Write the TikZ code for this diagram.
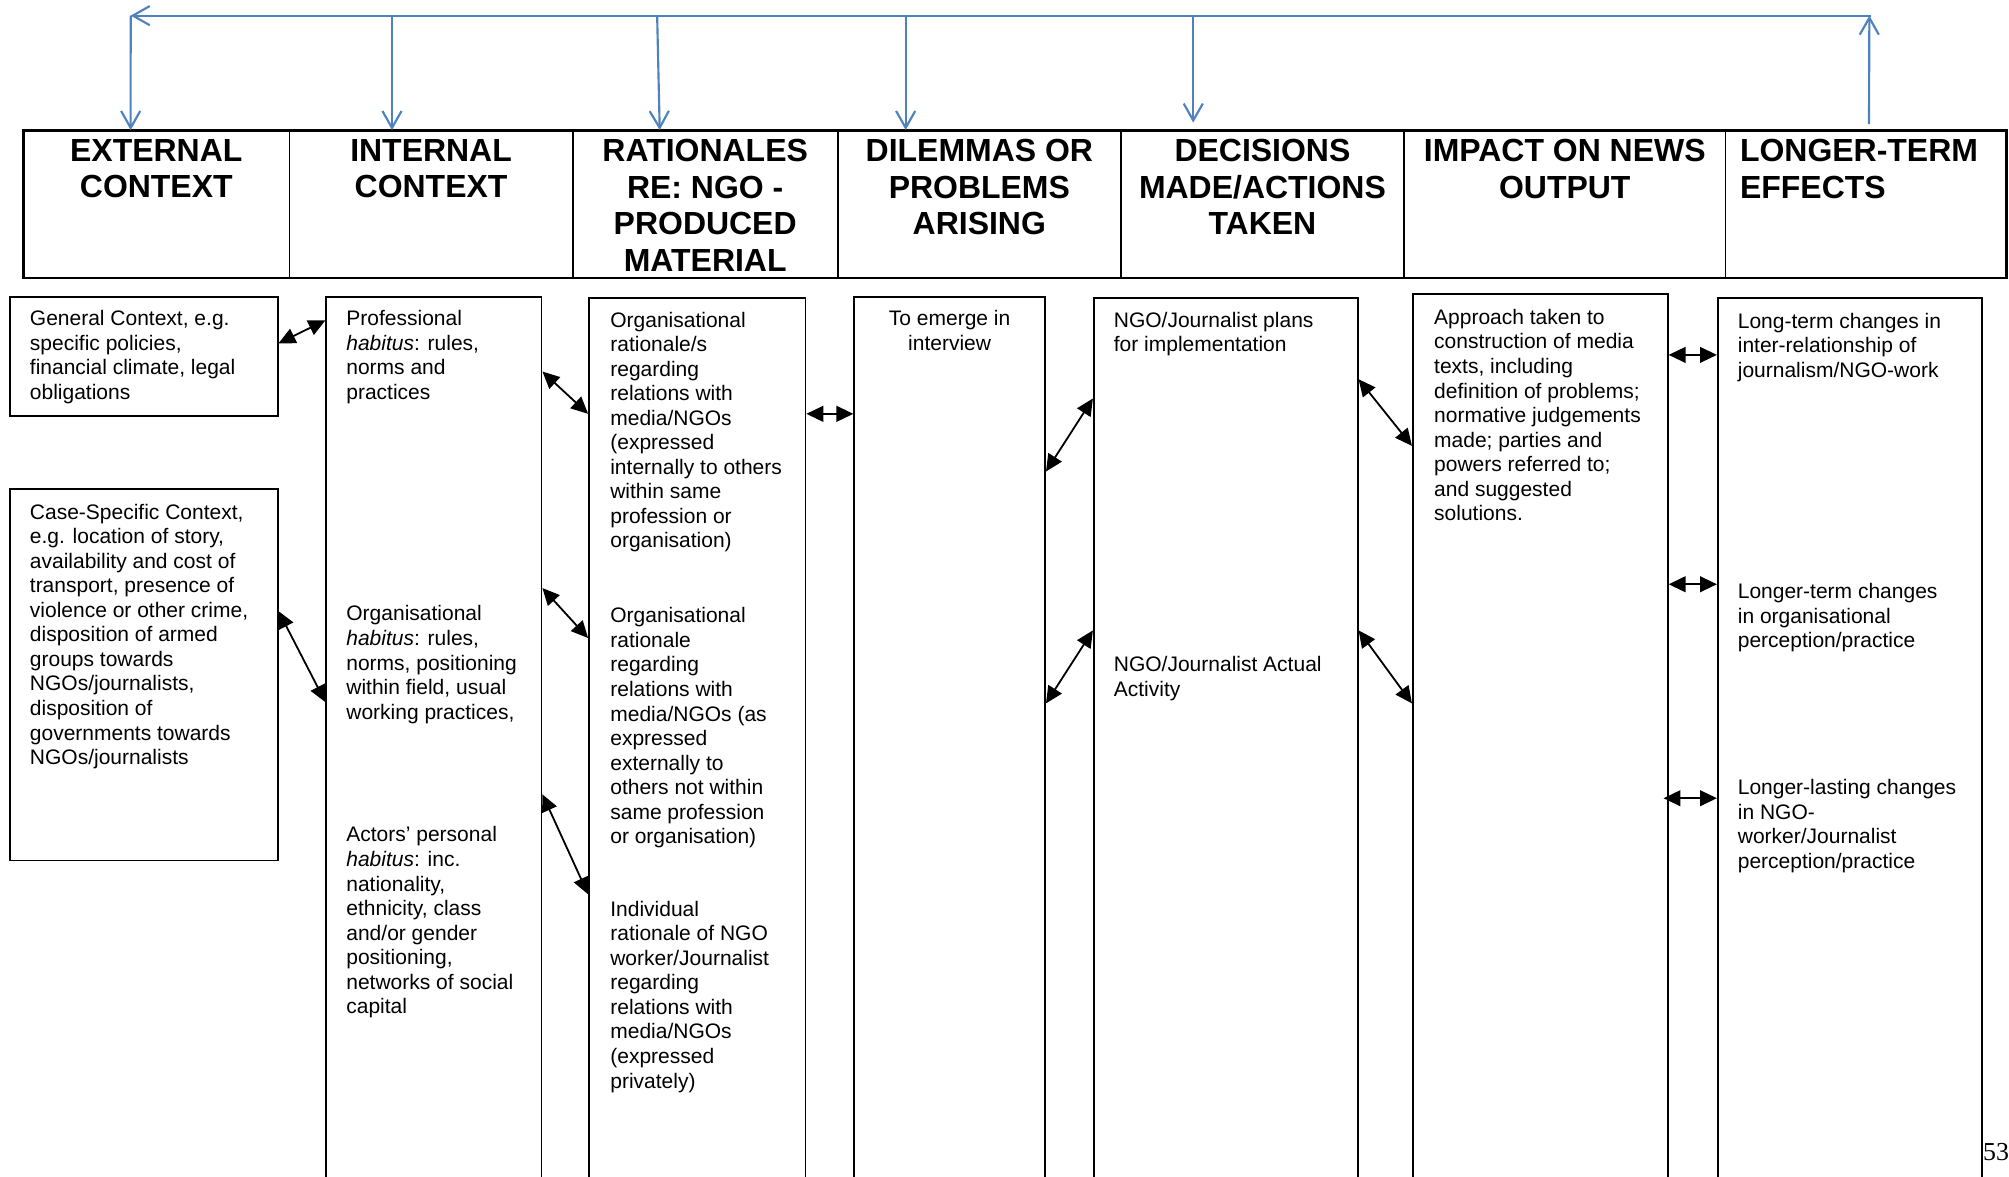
\documentclass[tikz,border=0pt]{standalone}
\usepackage{fontspec}
\setmainfont{Liberation Sans}
\newfontfamily\pagefont{Liberation Serif}
\usepackage{tikz}
\usepackage{xcolor}
\usetikzlibrary{arrows.meta, positioning}

\definecolor{fbblue}{RGB}{79,129,189}
\tikzset{
  colbox/.style={draw, line width=0.8pt, anchor=north west, minimum height=14.2cm, inner sep=0pt},
  hcell/.style={draw, line width=0.8pt, minimum height=2.31cm, inner sep=0pt, outer sep=0pt},
  htxt/.style={inner sep=0pt, align=center, font=\fontsize{14.2}{16.2}\selectfont\bfseries},
  txt/.style={inner sep=0pt, align=left, font=\fontsize{9.33}{10.9}\selectfont},
  dlink/.style={<->, >={Triangle[length=7.5pt,width=7pt]}, line width=0.8pt},
  fb/.style={->, >={Straight Barb[length=7.5pt,width=8.5pt]}, draw=fbblue, line width=0.95pt}
}

\begin{document}
\begin{tikzpicture}[x=0.02cm, y=-0.02cm]
\useasboundingbox (0,0) rectangle (1568,918);

% Header row
\node[hcell, minimum width=4.16cm, anchor=north west] (hExt) at (18,101.5) {};
\node[hcell, minimum width=4.42cm, right=0cm of hExt] (hInt) {};
\node[hcell, minimum width=4.14cm, right=0cm of hInt] (hRat) {};
\node[hcell, minimum width=4.42cm, right=0cm of hRat] (hDil) {};
\node[hcell, minimum width=4.42cm, right=0cm of hDil] (hDec) {};
\node[hcell, minimum width=5.02cm, right=0cm of hDec] (hImp) {};
\node[hcell, minimum width=4.38cm, right=0cm of hImp] (hLng) {};
\draw[line width=1.3pt] (hExt.north west) rectangle (hLng.south east);

\node[htxt, below=0.14cm of hExt.north] (hExtT) {EXTERNAL\\CONTEXT};
\node[htxt, below=0.14cm of hInt.north] (hIntT) {INTERNAL\\CONTEXT};
\node[htxt, below=0.14cm of hRat.north] (hRatT) {RATIONALES\\RE: NGO -\\PRODUCED\\MATERIAL};
\node[htxt, below=0.14cm of hDil.north] (hDilT) {DILEMMAS OR\\PROBLEMS\\ARISING};
\node[htxt, below=0.14cm of hDec.north] (hDecT) {DECISIONS\\MADE/ACTIONS\\TAKEN};
\node[htxt, below=0.14cm of hImp.north] (hImpT) {IMPACT ON NEWS\\OUTPUT};
\node[htxt, align=left, below right=0.14cm and 0.22cm of hLng.north west] (hLngT) {LONGER-TERM\\EFFECTS};

% Feedback loop along the top
\coordinate (topL) at (102,12.2);
\coordinate (topR) at (1459,12.2);
\draw[fb] ([shift={(2.5,-4.7)}]hLng.north) -- (topR);
\draw[fb] ([shift={(1.5,0)}]topR) -- (topL);
\draw[fb] (topL) -- ([shift={(-20,0)}]hExt.north);
\draw[fb] ([shift={(-30.5,-89.3)}]hInt.north) -- ([shift={(-30.5,0)}]hInt.north);
\draw[fb] ([shift={(-37.5,-89.3)}]hRat.north) -- ([shift={(-35.5,0)}]hRat.north);
\draw[fb] ([shift={(-57.5,-89.3)}]hDil.north) -- ([shift={(-57.5,0)}]hDil.north);
\draw[fb] ([shift={(-54,-89.3)}]hDec.north) -- ([shift={(-54,-5.8)}]hDec.north);

% Context boxes
\node[colbox, minimum width=4.18cm, minimum height=1.86cm] (gen) at (7,231) {};
\node[colbox, minimum width=4.18cm, minimum height=5.80cm] (cse) at (7,381) {};
\node[txt, below right=0.22cm and 0.32cm of gen.north west] (genT)
  {General Context, e.g.\\specific policies,\\financial climate, legal\\obligations};
\node[txt, below right=0.24cm and 0.32cm of cse.north west] (cseT)
  {Case-Specific Context,\\e.g. location of story,\\availability and cost of\\transport, presence of\\violence or other crime,\\disposition of armed\\groups towards\\NGOs/journalists,\\disposition of\\governments towards\\NGOs/journalists};

% Columns
\node[colbox, minimum width=3.36cm] (intl) at (254,231) {};
\node[colbox, minimum width=3.38cm] (rat) at (459,232) {};
\node[colbox, minimum width=2.98cm] (dil) at (666,231) {};
\node[colbox, minimum width=4.12cm] (dec) at (853,232) {};
\node[colbox, minimum width=3.98cm] (imp) at (1102,229) {};
\node[colbox, minimum width=4.12cm] (lng) at (1340,232) {};

\node[txt, below right=0.22cm and 0.32cm of intl.north west] (profT)
  {Professional\\\textit{habitus}: rules,\\norms and\\practices};
\node[txt, below right=4.83cm and 0.32cm of intl.north west] (orgT)
  {Organisational\\\textit{habitus}: rules,\\norms, positioning\\within field, usual\\working practices,};
\node[txt, below right=8.28cm and 0.32cm of intl.north west] (persT)
  {Actors' personal\\\textit{habitus}: inc.\\nationality,\\ethnicity, class\\and/or gender\\positioning,\\networks of social\\capital};

\node[txt, below right=0.22cm and 0.34cm of rat.north west] (ratIntT)
  {Organisational\\rationale/s\\regarding\\relations with\\media/NGOs\\(expressed\\internally to others\\within same\\profession or\\organisation)};
\node[txt, below right=4.84cm and 0.34cm of rat.north west] (ratExtT)
  {Organisational\\rationale\\regarding\\relations with\\media/NGOs (as\\expressed\\externally to\\others not within\\same profession\\or organisation)};
\node[txt, below right=9.42cm and 0.34cm of rat.north west] (ratIndT)
  {Individual\\rationale of NGO\\worker/Journalist\\regarding\\relations with\\media/NGOs\\(expressed\\privately)};

\node[txt, align=center, below=0.22cm of dil.north] (dilT) {To emerge in\\interview};

\node[txt, below right=0.22cm and 0.32cm of dec.north west] (planT)
  {NGO/Journalist plans\\for implementation};
\node[txt, below right=5.60cm and 0.32cm of dec.north west] (actT)
  {NGO/Journalist Actual\\Activity};

\node[txt, below right=0.24cm and 0.34cm of imp.north west] (impT)
  {Approach taken to\\construction of media\\texts, including\\definition of problems;\\normative judgements\\made; parties and\\powers referred to;\\and suggested\\solutions.};

\node[txt, below right=0.24cm and 0.32cm of lng.north west] (relT)
  {Long-term changes in\\inter-relationship of\\journalism/NGO-work};
\node[txt, below right=4.46cm and 0.32cm of lng.north west] (orgChT)
  {Longer-term changes\\in organisational\\perception/practice};
\node[txt, below right=7.52cm and 0.32cm of lng.north west] (indChT)
  {Longer-lasting changes\\in NGO-\\worker/Journalist\\perception/practice};

% Two-way links
\draw[dlink] ([shift={(0,37)}]gen.north east) -- ([shift={(0,19)}]intl.north west);
\draw[dlink] ([shift={(0,96)}]cse.north east) -- ([shift={(0,317)}]intl.north west);
\draw[dlink] ([shift={(0,59)}]intl.north east) -- ([shift={(0,91)}]rat.north west);
\draw[dlink] ([shift={(0,228)}]intl.north east) -- ([shift={(0,266)}]rat.north west);
\draw[dlink] ([shift={(0,389)}]intl.north east) -- ([shift={(0,466)}]rat.north west);
\draw[dlink] ([shift={(0,91)}]rat.north east) -- ([shift={(0,92)}]dil.north west);
\draw[dlink] ([shift={(0,137)}]dil.north east) -- ([shift={(0,79)}]dec.north west);
\draw[dlink] ([shift={(0,318)}]dil.north east) -- ([shift={(0,260)}]dec.north west);
\draw[dlink] ([shift={(0,64)}]dec.north east) -- ([shift={(0,119)}]imp.north west);
\draw[dlink] ([shift={(0,260)}]dec.north east) -- ([shift={(0,320)}]imp.north west);
\draw[dlink] ([shift={(0,48)}]imp.north east) -- ([shift={(0,45)}]lng.north west);
\draw[dlink] ([shift={(0,227)}]imp.north east) -- ([shift={(0,224)}]lng.north west);
\draw[dlink] ([shift={(-4,394)}]imp.north east) -- ([shift={(0,391)}]lng.north west);

% Page number
\node[font=\pagefont\fontsize{11.5}{14}\selectfont, anchor=base west, inner sep=0pt] (pg) at (1547.5,906) {53};
\end{tikzpicture}
\end{document}
